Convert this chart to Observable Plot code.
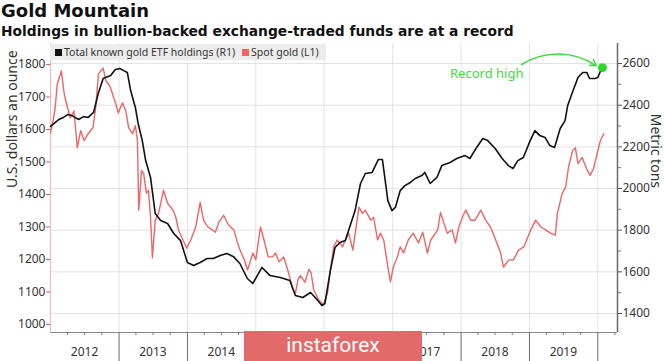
<!DOCTYPE html>
<html>
<head>
<meta charset="utf-8">
<script src="https://cdn.jsdelivr.net/npm/d3@7"></script>
<script src="https://cdn.jsdelivr.net/npm/@observablehq/plot@0.6"></script>
<style>
  body { margin: 0; background: #fff; }
  #wrap { position: relative; width: 665px; height: 361px; overflow: hidden; font-family: "Noto Sans", sans-serif; }
  #title { font: bold 18px/22px "DejaVu Sans", sans-serif; color: #111; padding-left: 1px; }
  #sub { font: bold 13.8px/18px "DejaVu Sans", sans-serif; color: #111; padding-left: 1px; }
  #chart svg { display: block; }
  #legend { position: absolute; left: 50px; top: 44px; width: 276px; height: 16px; background: #ececec;
            font-size: 10.5px; line-height: 16px; color: #333; white-space: nowrap; }
  #legend .sw { display: inline-block; width: 7px; height: 7px; margin: 0 2px 0 5px; vertical-align: 0px; }
  #mark { position: absolute; left: 244px; top: 331px; width: 178px; height: 30px; background: #e36a6a;
          color: #fff; font: 21px/28px Roboto, sans-serif; text-align: center; }
</style>
</head>
<body>
<div id="wrap">
  <div id="title">Gold Mountain</div>
  <div id="sub">Holdings in bullion-backed exchange-traded funds are at a record</div>
  <div id="chart"></div>
  <div id="legend"><span class="sw" style="background:#111"></span>Total known gold ETF holdings (R1)<span class="sw" style="background:#f06464;margin-left:7px"></span>Spot gold (L1)</div>
  <div id="mark">instaforex</div>
</div>
<script>
// ---- data ----
const spotGold = [
  ["2012-01-01",1590],["2012-01-15",1627],["2012-01-26",1667],["2012-02-06",1740],["2012-02-28",1780],
  ["2012-03-14",1710],["2012-04-01",1667],["2012-04-16",1636],["2012-05-05",1657],["2012-05-23",1544],
  ["2012-06-10",1596],["2012-06-28",1566],["2012-07-20",1587],["2012-08-15",1606],["2012-08-29",1667],
  ["2012-09-13",1771],["2012-10-08",1789],["2012-10-23",1749],["2012-11-06",1740],["2012-11-17",1728],
  ["2012-12-02",1700],["2012-12-13",1682],["2012-12-28",1651],["2013-01-19",1682],["2013-02-06",1657],
  ["2013-02-21",1606],["2013-03-14",1587],["2013-03-29",1612],["2013-04-09",1566],["2013-04-16",1352],
  ["2013-05-01",1474],["2013-05-12",1465],["2013-05-27",1404],["2013-06-07",1413],["2013-06-18",1330],
  ["2013-06-28",1205],["2013-07-13",1321],["2013-07-31",1342],["2013-08-26",1413],["2013-09-17",1373],
  ["2013-10-16",1352],["2013-10-31",1330],["2013-11-14",1291],["2013-12-13",1254],["2013-12-28",1235],
  ["2014-01-19",1260],["2014-02-14",1300],["2014-03-10",1376],["2014-03-28",1321],["2014-04-20",1300],
  ["2014-05-15",1291],["2014-05-30",1284],["2014-06-18",1315],["2014-07-13",1336],["2014-08-08",1306],
  ["2014-09-06",1291],["2014-10-02",1239],["2014-10-31",1199],["2014-11-18",1168],["2014-12-17",1220],
  ["2015-01-01",1199],["2015-01-26",1300],["2015-02-14",1260],["2015-03-08",1208],["2015-04-01",1208],
  ["2015-04-16",1220],["2015-05-05",1193],["2015-05-30",1208],["2015-06-25",1159],["2015-07-17",1110],
  ["2015-07-31",1095],["2015-08-15",1140],["2015-08-29",1150],["2015-09-20",1130],["2015-10-12",1170],
  ["2015-10-23",1160],["2015-11-06",1107],["2015-12-02",1076],["2015-12-28",1061],["2016-01-19",1098],
  ["2016-02-03",1168],["2016-02-21",1239],["2016-03-10",1260],["2016-04-08",1239],["2016-04-23",1260],
  ["2016-05-11",1281],["2016-06-02",1229],["2016-06-17",1291],["2016-07-05",1361],["2016-07-23",1342],
  ["2016-08-07",1352],["2016-09-06",1321],["2016-09-21",1330],["2016-10-12",1260],["2016-10-27",1281],
  ["2016-11-14",1260],["2016-12-06",1177],["2016-12-20",1131],["2017-01-04",1177],["2017-01-26",1208],
  ["2017-02-10",1239],["2017-02-28",1220],["2017-03-25",1260],["2017-04-20",1281],["2017-05-19",1251],
  ["2017-06-10",1284],["2017-07-05",1220],["2017-07-23",1260],["2017-08-29",1291],["2017-09-13",1345],
  ["2017-10-01",1312],["2017-10-19",1281],["2017-11-14",1291],["2017-12-02",1251],["2017-12-20",1300],
  ["2018-01-15",1340],["2018-01-26",1352],["2018-02-10",1335],["2018-02-21",1321],["2018-03-17",1321],
  ["2018-04-16",1352],["2018-05-12",1321],["2018-06-07",1300],["2018-07-05",1260],["2018-07-31",1220],
  ["2018-08-15",1177],["2018-09-13",1199],["2018-10-08",1199],["2018-11-03",1229],["2018-12-02",1239],
  ["2019-01-08",1291],["2019-02-03",1321],["2019-03-03",1300],["2019-03-29",1291],["2019-04-23",1281],
  ["2019-05-19",1275],["2019-05-30",1342],["2019-06-25",1404],["2019-07-13",1422],["2019-07-28",1483],
  ["2019-08-19",1535],["2019-09-03",1544],["2019-09-17",1495],["2019-10-09",1514],["2019-11-06",1474],
  ["2019-11-21",1459],["2019-12-09",1480],["2020-01-01",1535],["2020-01-15",1566],["2020-02-02",1587]
];
const etfHoldings = [
  ["2012-01-01",2298],["2012-02-14",2331],["2012-03-10",2341],["2012-04-01",2355],["2012-04-25",2350],
  ["2012-05-30",2331],["2012-06-25",2345],["2012-07-20",2341],["2012-08-18",2365],["2012-09-12",2456],
  ["2012-10-08",2528],["2012-11-17",2542],["2012-12-12",2571],["2013-01-05",2576],["2013-01-26",2566],
  ["2013-02-14",2557],["2013-03-04",2470],["2013-03-29",2389],["2013-04-13",2312],["2013-05-05",2230],
  ["2013-05-23",2134],["2013-06-18",2053],["2013-07-02",1957],["2013-07-13",1880],["2013-08-11",1846],
  ["2013-09-17",1832],["2013-10-20",1784],["2013-11-25",1750],["2014-01-01",1645],["2014-02-03",1630],
  ["2014-03-10",1645],["2014-04-16",1664],["2014-05-19",1664],["2014-06-25",1678],["2014-07-31",1688],
  ["2014-09-02",1674],["2014-10-08",1640],["2014-11-17",1568],["2014-12-16",1544],["2015-02-03",1621],
  ["2015-03-18",1582],["2015-05-12",1573],["2015-07-02",1558],["2015-07-31",1486],["2015-09-09",1477],
  ["2015-10-20",1501],["2015-11-14",1477],["2015-12-20",1438],["2016-01-05",1448],["2016-02-03",1606],
  ["2016-02-28",1717],["2016-03-25",1741],["2016-04-23",1750],["2016-05-19",1822],["2016-06-14",1894],
  ["2016-07-13",2024],["2016-08-08",2072],["2016-09-13",2077],["2016-10-16",2139],["2016-11-07",2139],
  ["2016-11-22",2038],["2016-12-06",1942],["2016-12-28",1894],["2017-01-15",1909],["2017-02-10",1990],
  ["2017-03-07",2014],["2017-04-05",2029],["2017-05-01",2048],["2017-06-06",2062],["2017-06-21",2077],
  ["2017-07-20",2024],["2017-08-25",2053],["2017-09-20",2110],["2017-11-03",2125],["2017-12-09",2144],
  ["2018-01-22",2158],["2018-02-17",2144],["2018-03-25",2197],["2018-04-27",2240],["2018-05-23",2230],
  ["2018-07-02",2192],["2018-08-08",2144],["2018-09-10",2110],["2018-10-05",2096],["2018-10-31",2134],
  ["2018-11-29",2149],["2019-01-05",2230],["2019-01-30",2278],["2019-02-25",2254],["2019-03-25",2245],
  ["2019-04-20",2206],["2019-05-15",2197],["2019-06-14",2288],["2019-07-10",2326],["2019-07-24",2398],
  ["2019-08-22",2470],["2019-09-17",2533],["2019-10-12",2557],["2019-11-03",2557],["2019-11-18",2528],
  ["2019-12-17",2528],["2020-01-01",2533],["2020-01-12",2557],["2020-01-26",2580]
];
const leftTicks = [1000, 1100, 1200, 1300, 1400, 1500, 1600, 1700, 1800];      // U.S. dollars an ounce
const rightTicks = [1400, 1600, 1800, 2000, 2200, 2400, 2600];                   // metric tons
const rightMinorTicks = [1500, 1700, 1900, 2100, 2300, 2500];
const years = [2012, 2013, 2014, 2015, 2016, 2017, 2018, 2019];
const annotation = {label: "Record high", date: "2018-05-18", value: 1772,
                    arrowFrom: ["2018-11-20", 1800], arrowTo: ["2019-12-24", 1796]};

// ---- scales ----
const xDomain = [new Date("2012-01-01"), new Date("2020-04-15")];
const yDomain = [975.4, 1864.6];          // left axis (USD/oz)
const tonsDomain = [1308.8, 2696];        // right axis (tons), same pixel span
const toLeft = d3.scaleLinear(tonsDomain, yDomain);
const fmt = d3.format("d");

const gold = spotGold.map(([d, v]) => ({date: new Date(d), value: v}));
const etf = etfHoldings.map(([d, v]) => ({date: new Date(d), value: v}));
const etfLast = etf[etf.length - 1];
const yearStarts = years.slice(1).map(y => new Date(Date.UTC(y, 0, 1))).concat([new Date(Date.UTC(2020, 0, 1))]);
const yearMids = years.map(y => new Date(Date.UTC(y, 6, 1)));
const quarterTicks = d3.utcMonth.every(3).range(xDomain[0], xDomain[1]).filter(d => d.getUTCMonth() !== 0);

const chart = Plot.plot({
  width: 665, height: 321,
  marginTop: 3, marginBottom: 29, marginLeft: 50, marginRight: 48,
  style: {fontFamily: "'Noto Sans', sans-serif", fontSize: "12px", color: "#333", background: "transparent", overflow: "visible"},
  x: {type: "utc", domain: xDomain, axis: null},
  y: {domain: yDomain, axis: null},
  marks: [
    Plot.gridY(rightTicks, {y: toLeft, stroke: "#e3e3e3", strokeOpacity: 1}),
    Plot.gridX(yearStarts, {stroke: "#e3e3e3", strokeOpacity: 1}),
    Plot.ruleX([xDomain[0]], {stroke: "#f2b5b5"}),
    Plot.ruleY([yDomain[0]], {stroke: "#8a8a8a"}),
    Plot.ruleX([xDomain[1]], {stroke: "#6a6a6a", strokeWidth: 1.5}),
    Plot.axisY(leftTicks, {anchor: "left", tickSize: 4, tickPadding: 1, tickFormat: fmt, stroke: "#e85c5c", color: "#333", label: null}),
    Plot.axisY(rightTicks, {y: toLeft, anchor: "right", tickSize: 4, tickPadding: 1, tickFormat: fmt, stroke: "#555", color: "#333", label: null}),
    Plot.axisY(rightMinorTicks, {y: toLeft, anchor: "right", tickSize: 3, tickFormat: () => "", stroke: "#777", label: null}),
    Plot.axisX(quarterTicks, {anchor: "bottom", tickSize: 3, tickFormat: () => "", stroke: "#777", label: null}),
    Plot.axisX(yearStarts, {anchor: "bottom", tickSize: 29, tickFormat: () => "", stroke: "#6a6a6a", label: null}),
    Plot.axisX(yearMids, {anchor: "bottom", tickSize: 0, tickPadding: 15, tickFormat: "%Y", color: "#333", label: null}),
    Plot.line(gold, {x: "date", y: "value", stroke: "#f06464", strokeWidth: 1.4}),
    Plot.line(etf, {x: "date", y: d => toLeft(d.value), stroke: "#111", strokeWidth: 1.6}),
    Plot.dot([etfLast], {x: "date", y: d => toLeft(d.value), r: 4.5, fill: "#2ed62e", stroke: "none"}),
    Plot.text([annotation], {x: d => new Date(d.date), y: "value", text: "label", fill: "#3fda3f", fontSize: 13}),
    Plot.arrow([annotation], {
      x1: d => new Date(d.arrowFrom[0]), y1: d => d.arrowFrom[1],
      x2: d => new Date(d.arrowTo[0]), y2: d => d.arrowTo[1],
      bend: 33, stroke: "#3fda3f", strokeWidth: 1.5, headLength: 7
    }),
    Plot.text(["U.S. dollars an ounce"], {frameAnchor: "left", dx: -38, rotate: -90, fontSize: 14, fill: "#333"}),
    Plot.text(["Metric tons"], {frameAnchor: "right", dx: 38, rotate: 90, fontSize: 14, fill: "#333"})
  ]
});
document.getElementById("chart").appendChild(chart);
</script>
</body>
</html>
